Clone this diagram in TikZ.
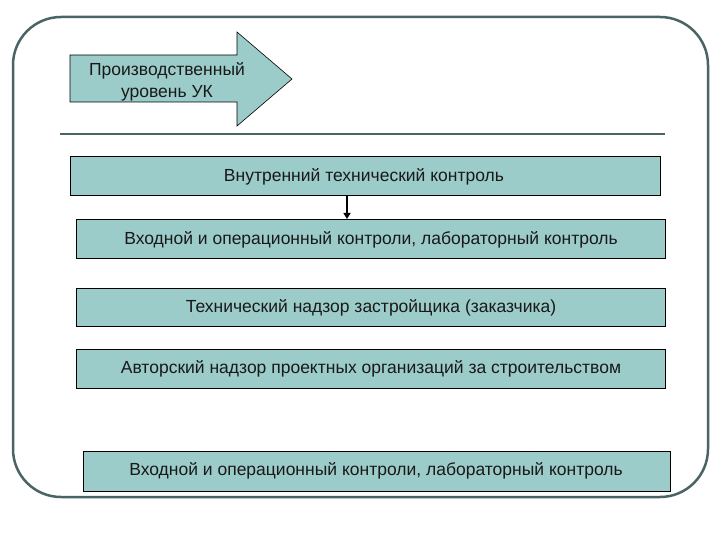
\documentclass[tikz,border=0pt]{standalone}
\usepackage{fontspec}
\setmainfont{Liberation Sans}
\usetikzlibrary{arrows.meta}
\definecolor{frame}{HTML}{4A6363}
\definecolor{boxfill}{HTML}{9CCCCA}
\tikzset{
  levelbox/.style={draw=black, line width=1pt, fill=boxfill},
  boxtext/.style={font=\fontsize{17.5}{20}\selectfont, text=black!90, inner sep=0pt},
}
\begin{document}
\begin{tikzpicture}[x=1pt,y=-1pt]
\useasboundingbox (0,0) rectangle (720,540);
% outer frame
\draw[frame, line width=2.5pt, rounded corners=48pt] (13,17) rectangle (708,497);
% arrow
\draw[black, line width=0.6pt, fill=boxfill] (70,55) -- (237,55) -- (237,32) -- (292,79) -- (237,126) -- (237,102) -- (70,102) -- cycle;
\node[align=center, font=\fontsize{17.5}{22}\selectfont, text=black!90] (lvl) at (167,82) {Производственный\\уровень УК};
% separator line
\coordinate (s1) at (60,134);
\coordinate (s2) at (665,134);
\draw[frame, line width=2.2pt] (s1) -- (s2);
% boxes
\draw[levelbox] (70,157) rectangle (660,196);
\node[boxtext] (b1) at (364,177) {Внутренний технический контроль};
\draw[levelbox] (76,220) rectangle (665,258);
\node[boxtext] (b2) at (371,240) {Входной и операционный контроли, лабораторный контроль};
\draw[levelbox] (76,288) rectangle (665,326);
\node[boxtext] (b3) at (371,308) {Технический надзор застройщика (заказчика)};
\draw[levelbox] (76,349) rectangle (665,388);
\node[boxtext] (b4) at (371,369) {Авторский надзор проектных организаций за строительством};
\draw[levelbox] (83,451) rectangle (670,491);
\node[boxtext] (b5) at (376,471) {Входной и операционный контроли, лабораторный контроль};
% connector
\coordinate (a1) at (347,196);
\coordinate (a2) at (347,219);
\draw[black, line width=1.6pt, -{Triangle[length=6pt,width=7pt]}] (a1) -- (a2);
\end{tikzpicture}
\end{document}
